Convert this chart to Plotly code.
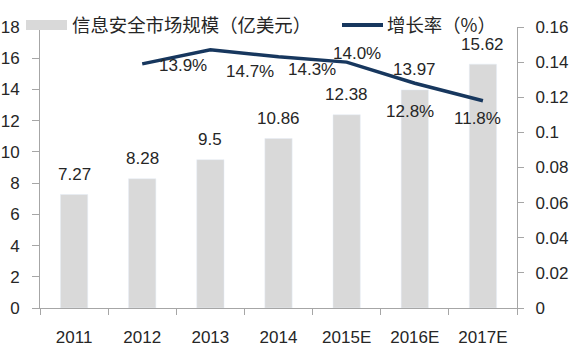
import plotly.graph_objects as go

# ---- data ----
categories = ["2011", "2012", "2013", "2014", "2015E", "2016E", "2017E"]
market_size = [7.27, 8.28, 9.5, 10.86, 12.38, 13.97, 15.62]
growth_cats = ["2012", "2013", "2014", "2015E", "2016E", "2017E"]
growth_rate = [0.139, 0.147, 0.143, 0.140, 0.128, 0.118]
growth_labels = ["13.9%", "14.7%", "14.3%", "14.0%", "12.8%", "11.8%"]
bar_labels = ["7.27", "8.28", "9.5", "10.86", "12.38", "13.97", "15.62"]
left_ticks = [0, 2, 4, 6, 8, 10, 12, 14, 16, 18]
right_ticks = [0, 0.02, 0.04, 0.06, 0.08, 0.1, 0.12, 0.14, 0.16]
right_tick_text = ["0", "0.02", "0.04", "0.06", "0.08", "0.1", "0.12", "0.14", "0.16"]
legend_bar = "信息安全市场规模（亿美元）"
legend_line = "增长率（%）"

# ---- style / layout ----
W, H = 578, 355
ML, MR, MT, MB = 40, 61, 27, 47
PW, PH = W - ML - MR, H - MT - MB
BAR_COLOR = "#d9d9d9"
LINE_COLOR = "#17375e"
AXIS_COLOR = "#a6a6a6"
TEXT_COLOR = "#262626"
NUM_FONT = "Liberation Sans"
CJK_FONT = "Noto Sans CJK SC"
FS = 17

def px_x(p):
    return (p - ML) / PW

def px_y(p):
    return (H - MB - p) / PH

# offsets of growth labels relative to their points (pixels)
growth_label_shift = [(41, -2), (40, -22), (33, -13), (10, 9), (-5, -28), (-5, -18)]

fig = go.Figure()
fig.add_trace(go.Bar(
    x=categories, y=market_size, marker_color=BAR_COLOR, width=0.4,
    name=legend_bar, showlegend=False, hoverinfo="skip",
))
fig.add_trace(go.Scatter(
    x=growth_cats, y=growth_rate, yaxis="y2", mode="lines",
    line=dict(color=LINE_COLOR, width=3.5), name=legend_line,
    showlegend=False, hoverinfo="skip",
))

annotations = []
for c, v, t in zip(categories, market_size, bar_labels):
    annotations.append(dict(
        x=categories.index(c), y=v, xref="x", yref="y", text=t, showarrow=False,
        yanchor="middle", yshift=20,
        font=dict(family=NUM_FONT, size=FS, color=TEXT_COLOR),
    ))
for c, v, t, (dx, dy) in zip(growth_cats, growth_rate, growth_labels, growth_label_shift):
    annotations.append(dict(
        x=categories.index(c), y=v, xref="x", yref="y2", text=t, showarrow=False,
        xanchor="center", yanchor="middle", xshift=dx, yshift=dy,
        font=dict(family=NUM_FONT, size=FS, color=TEXT_COLOR),
    ))
# legend text
annotations.append(dict(
    x=px_x(70), y=px_y(24), xref="paper", yref="paper", text=legend_bar,
    showarrow=False, xanchor="left", yanchor="middle",
    font=dict(family=CJK_FONT, size=18.4, color=TEXT_COLOR),
))
annotations.append(dict(
    x=px_x(385), y=px_y(24), xref="paper", yref="paper", text=legend_line,
    showarrow=False, xanchor="left", yanchor="middle",
    font=dict(family=CJK_FONT, size=18.4, color=TEXT_COLOR),
))

shapes = [
    dict(type="rect", xref="paper", yref="paper",
         x0=px_x(26), x1=px_x(67), y0=px_y(30), y1=px_y(20),
         fillcolor=BAR_COLOR, line=dict(width=0)),
    dict(type="line", xref="paper", yref="paper",
         x0=px_x(342), x1=px_x(383), y0=px_y(25), y1=px_y(25),
         line=dict(color=LINE_COLOR, width=4)),
]

fig.update_layout(
    width=W, height=H,
    margin=dict(l=ML, r=MR, t=MT, b=MB, pad=0, autoexpand=False),
    paper_bgcolor="white", plot_bgcolor="white",
    showlegend=False,
    bargap=0.6,
    annotations=annotations,
    shapes=shapes,
    xaxis=dict(
        type="category", categoryorder="array", categoryarray=categories,
        range=[-0.5, len(categories) - 0.5], autorange=False, automargin=False,
        showline=True, linecolor=AXIS_COLOR, linewidth=1,
        ticks="outside", tickson="boundaries", ticklen=6, tickcolor=AXIS_COLOR,
        showgrid=False, zeroline=False,
        tickfont=dict(family=NUM_FONT, size=FS, color=TEXT_COLOR),
        ticklabelstandoff=14,
    ),
    yaxis=dict(
        range=[0, 18], autorange=False, automargin=False, tickvals=left_ticks,
        showline=True, linecolor=AXIS_COLOR, linewidth=1,
        ticks="outside", ticklen=7, tickcolor=AXIS_COLOR,
        showgrid=False, zeroline=False,
        tickfont=dict(family=NUM_FONT, size=FS, color=TEXT_COLOR),
        ticklabelstandoff=9,
    ),
    yaxis2=dict(
        range=[0, 0.16], autorange=False, automargin=False,
        tickvals=right_ticks, ticktext=right_tick_text,
        overlaying="y", side="right",
        showline=True, linecolor=AXIS_COLOR, linewidth=1,
        ticks="outside", ticklen=6, tickcolor=AXIS_COLOR,
        showgrid=False, zeroline=False,
        tickfont=dict(family=NUM_FONT, size=FS, color=TEXT_COLOR),
        ticklabelstandoff=8,
    ),
)

fig.write_html(
    "out.html",
    config={"displayModeBar": False},
    post_script="document.body.style.margin='0';document.body.style.overflow='hidden';",
)
